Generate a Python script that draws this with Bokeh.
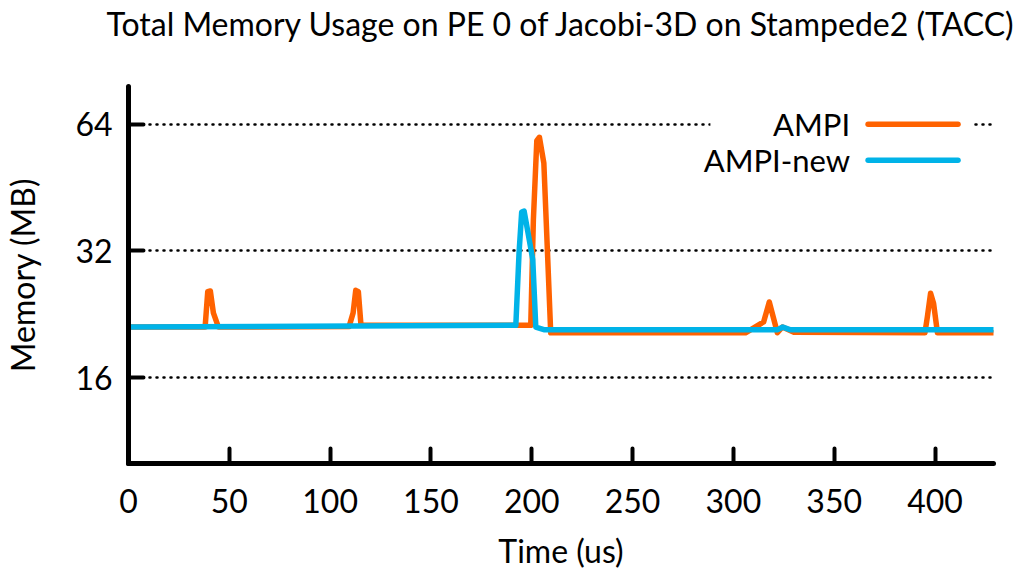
from bokeh.plotting import figure
from bokeh.models import Range1d, FixedTicker, PrintfTickFormatter, BoxAnnotation, Label, Div
from bokeh.layouts import column
from bokeh.embed import file_html
from bokeh.resources import INLINE

# ---- data ----
ampi_x = [0, 38.0, 39.3, 40.6, 42.1, 44.6, 109.4, 111.4, 112.7, 114.0, 115.3, 199.5, 200.8,
          202.5, 203.8, 206.0, 207.8, 209.4, 306.0, 315.0, 317.8, 321.8, 324.3, 330.0, 395.0,
          396.2, 397.8, 399.3, 401.2, 429.0]
ampi_y = [21.1, 21.1, 25.6, 25.7, 22.8, 21.1, 21.15, 22.8, 25.8, 25.6, 21.3, 21.3, 37.9,
          58.5, 59.6, 51.7, 31.7, 20.45, 20.45, 21.7, 24.2, 20.45, 21.1, 20.5, 20.45,
          22.3, 25.4, 24.0, 20.45, 20.45]

new_x = [0, 190.0, 192.1, 193.7, 195.0, 196.2, 197.9, 200.5, 202.0, 206.0, 322.0, 324.5, 328.0, 429.0]
new_y = [21.1, 21.3, 21.3, 31.7, 39.6, 39.8, 35.9, 30.5, 21.1, 20.8, 20.8, 21.1, 20.8, 20.8]

series_names = ["AMPI", "AMPI-new"]
series_colors = ["#FF6200", "#00B3E8"]
y_ticks = [16, 32, 64]
x_ticks = [0, 50, 100, 150, 200, 250, 300, 350, 400]
title_text = "Total Memory Usage on PE 0 of Jacobi-3D on Stampede2 (TACC)"

FONT = "Lato"

title_div = Div(text=title_text, width=916, height=46, margin=(5, 0, 0, 102),
                styles={"font-family": FONT, "font-size": "32px", "color": "black",
                        "text-align": "center", "white-space": "nowrap",
                        "line-height": "1.2"})

p = figure(width=1018, height=521, output_backend="svg", toolbar_location=None,
           y_axis_type="log",
           x_range=Range1d(0, 429), y_range=Range1d(10, 78.7),
           min_border_left=127, min_border_right=25, min_border_top=35, min_border_bottom=108)

p.outline_line_color = None
p.xgrid.grid_line_color = None
p.ygrid.grid_line_color = "black"
p.ygrid.grid_line_dash = "1 6"
p.ygrid.grid_line_width = 2.5
p.ygrid.grid_line_cap = "round"
p.ygrid.ticker = FixedTicker(ticks=y_ticks)

for ax in (p.xaxis[0], p.yaxis[0]):
    ax.axis_line_width = 5
    ax.axis_line_cap = "round"
    ax.major_tick_line_width = 4
    ax.major_tick_line_cap = "round"
    ax.major_tick_in = 15
    ax.major_tick_out = 0
    ax.minor_tick_line_color = None
    ax.major_label_text_font = FONT
    ax.major_label_text_font_size = "32px"
    ax.major_label_text_color = "black"
    ax.axis_label_text_font = FONT
    ax.axis_label_text_font_size = "32px"
    ax.axis_label_text_font_style = "normal"
    ax.axis_label_text_color = "black"

p.xaxis.ticker = FixedTicker(ticks=x_ticks)
p.xaxis.axis_label = "Time (us)"
p.xaxis.major_label_standoff = 25
p.xaxis.axis_label_standoff = 15

p.yaxis.ticker = FixedTicker(ticks=y_ticks)
p.yaxis.formatter = PrintfTickFormatter(format="%d")
p.yaxis.axis_label = "Memory (MB)"
p.yaxis.major_label_standoff = 16
p.yaxis.axis_label_standoff = 30

# data lines
p.line(ampi_x, ampi_y, line_color=series_colors[0], line_width=5.5, line_join="round", line_cap="round")
p.line(new_x, new_y, line_color=series_colors[1], line_width=5.5, line_join="round", line_cap="round")

# legend (gnuplot style: label then sample), white box over grid
p.add_layout(BoxAnnotation(left=288.6, right=418.3, bottom=47.7, top=71.0,
                           fill_color="white", fill_alpha=1.0, line_color=None,
                           level="underlay"))
leg_y = [64.0, 52.6]
for name, col, yy in zip(series_names, series_colors, leg_y):
    p.add_layout(Label(x=357.9, y=yy, text=name, text_align="right", text_baseline="middle",
                       text_font=FONT, text_font_size="31px", text_color="black"))
    p.segment(x0=[366.8], y0=[yy], x1=[411.4], y1=[yy], line_color=col, line_width=5.5,
              line_cap="round")

layout = column(title_div, p, spacing=0)
open("out.html", "w").write(file_html(layout, INLINE))
